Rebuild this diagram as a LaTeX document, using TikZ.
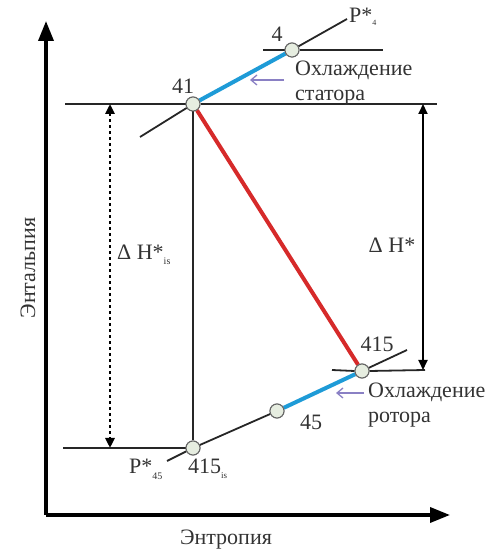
\documentclass[tikz,border=0pt]{standalone}
\usepackage{fontspec}
\setmainfont{Liberation Serif}
\newfontfamily\timesf{Liberation Serif}
\usetikzlibrary{arrows.meta}
\definecolor{bluec}{HTML}{1E9BD7}
\definecolor{redc}{HTML}{D62A2A}
\definecolor{purp}{HTML}{8A80C4}
\definecolor{ptfill}{HTML}{E6EDE0}
\definecolor{txt}{HTML}{333333}
\tikzset{
  pt/.style={circle,draw=gray!80!black,fill=ptfill,line width=1pt,minimum size=14pt,inner sep=0pt},
  thinl/.style={line width=1.8pt,black!85},
  axis/.style={line width=3.5pt,-{Triangle[length=20pt,width=15pt]}},
  lbl/.style={text=txt,font=\timesf\fontsize{22}{25}\selectfont,inner sep=1pt},
  hot/.style={line width=4pt},
  purparrow/.style={purp,line width=1.3pt,-{Straight Barb[length=6pt,width=10pt]}}
}
\begin{document}
\begin{tikzpicture}[x=1pt,y=1pt]
\useasboundingbox (0,0) rectangle (498,551);
% axes
\coordinate (O) at (46,36);
\coordinate (Ytop) at (46,530);
\coordinate (Xend) at (450,36);
\draw[axis] (O) -- (Ytop);
\draw[axis] (O) -- (Xend);
\node[lbl,rotate=90] (ylab) at (28,283) {Энтальпия};
\node[lbl] (xlab) at (226,11) {Энтропия};
% points
\node[pt] (p41) at (193,447) {};
\node[pt] (p4) at (292,501) {};
\node[pt] (p415) at (362,180) {};
\node[pt] (p415is) at (193,103) {};
\node[pt] (p45) at (277,140) {};
% helper coordinates
\coordinate (h41a) at (65,447);
\coordinate (h41b) at (437,447);
\coordinate (h4a) at (263,501);
\coordinate (h4b) at (383,501);
\coordinate (P4end) at (347,532);
\coordinate (l41) at (140,414);
\coordinate (his) at (63,103);
\coordinate (lis) at (167,90);
\coordinate (h415a) at (332,181);
\coordinate (h415b) at (425,181);
\coordinate (u415) at (407,201);
\coordinate (dA) at (110,447);
\coordinate (dB) at (110,103);
\coordinate (sA) at (423,447);
\coordinate (sB) at (423,181);
% lines
\draw[thinl] (h41a) -- (p41.west);
\draw[thinl] (p41.east) -- (h41b);
\draw[thinl] (h4a) -- (p4.west);
\draw[thinl] (p4.east) -- (h4b);
\draw[thinl] (p4) -- (P4end);
\draw[thinl] (p41) -- (l41);
\draw[thinl] (p41.south) -- (p415is.north);
\draw[thinl] (his) -- (p415is.west);
\draw[thinl] (lis) -- (p415is);
\draw[thinl] (p415is) -- (p45);
\draw[thinl] (h415a) -- (p415.west);
\draw[thinl] (p415.east) -- (h415b);
\draw[thinl] (p415) -- (u415);
\draw[bluec,hot] (p41) -- (p4);
\draw[bluec,hot] (p45) -- (p415);
\draw[redc,hot] (p41) -- (p415);
% redraw points on top
\node[pt] at (p41) {};
\node[pt] at (p4) {};
\node[pt] at (p415) {};
\node[pt] at (p415is) {};
\node[pt] at (p45) {};
% dimension arrows
\draw[line width=2.8pt,dash pattern=on 3pt off 3pt,{Triangle[length=10pt,width=9pt]}-{Triangle[length=10pt,width=9pt]}] (dA) -- (dB);
\draw[line width=1.8pt,{Triangle[length=10pt,width=9pt]}-{Triangle[length=10pt,width=9pt]}] (sA) -- (sB);
% purple arrows
\coordinate (pa1) at (284,471);
\coordinate (pa1e) at (250,471);
\coordinate (pa2) at (364,158);
\coordinate (pa2e) at (336,158);
\draw[purparrow] (pa1) -- (pa1e);
\draw[purparrow] (pa2) -- (pa2e);
% labels
\node[lbl] (t4) at (277,517) {4};
\node[lbl,anchor=west] (tP4) at (348,534) {P*\raisebox{-3pt}{\fontsize{8}{8}\selectfont 4}};
\node[lbl,anchor=west,align=left] (tst) at (294,468) {Охлаждение\\статора};
\node[lbl] (t41) at (183,465) {41};
\node[lbl,anchor=west] (tdis) at (116,296) {Δ H*\raisebox{-5pt}{\fontsize{10}{10}\selectfont is}};
\node[lbl] (tdh) at (392,306) {Δ H*};
\node[lbl] (t415) at (377,207) {415};
\node[lbl,anchor=west,align=left] (trot) at (367,146) {Охлаждение\\ротора};
\node[lbl] (t45) at (311,129) {45};
\node[lbl,anchor=west] (t415is) at (187,82) {415\raisebox{-5pt}{\fontsize{9}{9}\selectfont is}};
\node[lbl,anchor=west] (tP45) at (128,82) {P*\raisebox{-6pt}{\fontsize{10}{10}\selectfont 45}};
\end{tikzpicture}
\end{document}
